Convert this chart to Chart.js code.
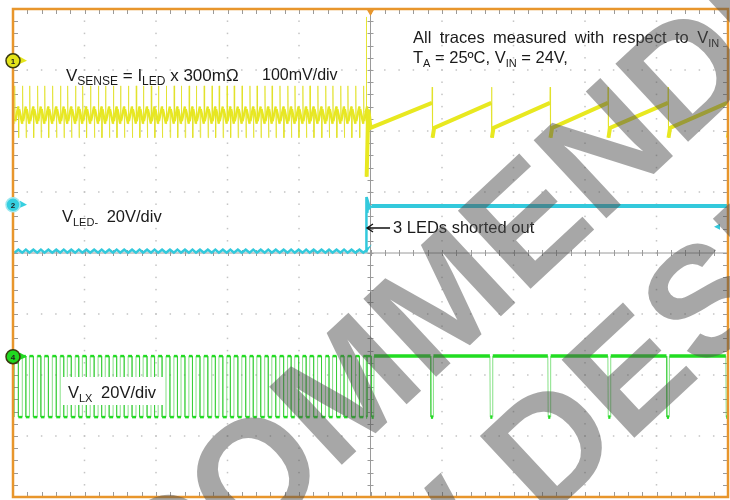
<!DOCTYPE html>
<html>
<head>
<meta charset="utf-8">
<script src="https://cdn.jsdelivr.net/npm/chart.js@4.4.0/dist/chart.umd.min.js"></script>
<style>
html, body { margin: 0; padding: 0; background: #fff; }
#wrap { width: 730px; height: 500px; }
</style>
</head>
<body>
<div id="wrap"><canvas id="chart" width="730" height="500"></canvas></div>
<script>
// Scope screen in divisions: x 0..10, y -4..4 (0 = centre line)

// switching cycles before the short (start of each cycle, div)
var switchCycles = [0.02, 0.13, 0.23, 0.34, 0.44, 0.55, 0.66, 0.76, 0.87, 0.97, 1.08, 1.19, 1.29, 1.40, 1.50, 1.61,
    1.72, 1.82, 1.93, 2.03, 2.14, 2.25, 2.35, 2.46, 2.56, 2.67, 2.78, 2.88, 2.99, 3.09, 3.20, 3.31, 3.41, 3.52, 3.62,
    3.73, 3.84, 3.94, 4.05, 4.15, 4.26, 4.37, 4.47, 4.58, 4.68, 4.79, 4.90];
var shortAt = 4.94;

// after the short the converter only switches now and then
var lxPulses = [5.03, 5.86, 6.69, 7.50, 8.34, 9.16, 9.99];
var senseDrops = [5.86, 6.69, 7.51, 8.32, 9.16, 9.99];

// levels, div  [low, high, spike top, spike bottom]
var senseBefore = [2.12, 2.40, 2.74, 1.89];
var senseAfter = [2.05, 2.46, 2.72, 1.89];
var senseShortSpike = [3.87, 1.25];
var ledBefore = 0.03;
var ledAfter = 0.77;
var ledRipple = 0.025;
var ledRing = [0.92, 0.66, 0.82, 0.74];
var lxLevels = [-1.69, -2.69];

// channel ground markers
var channelNames = ['1', '2', '4'];
var channelLevels = [3.15, 0.79, -1.70];
var channelColors = ['#e4e41a', '#35cfe0', '#20d820'];

var YELLOW = '#e8e820', CYAN = '#33c9dc', GREEN = '#22dd22';
var FONT = '"Liberation Sans", Arial, sans-serif';

function period(i) {
    return i < switchCycles.length - 1 ? switchCycles[i + 1] - switchCycles[i] : 0.106;
}

// V_SENSE trace
var sense = [];
switchCycles.forEach(function(t, i) {
    if (t >= shortAt) return;
    var h = period(i) / 2;
    sense.push({x: t, y: senseBefore[0]}, {x: t + 0.004, y: senseBefore[2]}, {x: t + 0.01, y: senseBefore[0] + 0.04},
        {x: t + h, y: senseBefore[1]}, {x: t + h + 0.004, y: senseBefore[3]}, {x: t + h + 0.01, y: senseBefore[1] - 0.04});
});
sense.push({x: shortAt, y: 2.3}, {x: shortAt + 0.002, y: senseShortSpike[0]}, {x: shortAt + 0.006, y: senseShortSpike[1]},
    {x: shortAt + 0.03, y: 2.35}, {x: shortAt + 0.06, y: senseAfter[0]});
senseDrops.forEach(function(d) {
    sense.push({x: d, y: senseAfter[1]}, {x: d + 0.003, y: senseAfter[2]}, {x: d + 0.008, y: senseAfter[3]},
        {x: d + 0.03, y: senseAfter[0]});
});
sense.push({x: 10, y: senseAfter[0]});

// V_LED- trace
var led = [];
switchCycles.forEach(function(t, i) {
    if (t >= shortAt) return;
    led.push({x: t, y: ledBefore - ledRipple}, {x: t + period(i) / 2, y: ledBefore + ledRipple});
});
led.push({x: shortAt, y: ledBefore}, {x: shortAt + 0.003, y: ledRing[0]}, {x: shortAt + 0.015, y: ledRing[1]},
    {x: shortAt + 0.03, y: ledRing[2]}, {x: shortAt + 0.05, y: ledRing[3]}, {x: shortAt + 0.08, y: ledAfter},
    {x: 10, y: ledAfter});

// V_LX trace
var lx = [];
switchCycles.forEach(function(t, i) {
    if (t >= shortAt) return;
    var h = period(i) / 2;
    lx.push({x: t, y: lxLevels[1]}, {x: t, y: lxLevels[0]}, {x: t + h, y: lxLevels[0]}, {x: t + h, y: lxLevels[1]});
});
lx.push({x: shortAt, y: lxLevels[1]}, {x: shortAt, y: lxLevels[0]});
lxPulses.forEach(function(p) {
    lx.push({x: p - 0.02, y: lxLevels[0]}, {x: p - 0.015, y: lxLevels[1]}, {x: p + 0.015, y: lxLevels[1]},
        {x: p + 0.02, y: lxLevels[0]});
});
lx.push({x: 10, y: lxLevels[0]});

function steep(ctx) {
    return Math.abs(ctx.p1.parsed.x - ctx.p0.parsed.x) < 0.012;
}

// text with subscripts; gap = extra space between words
function rich(ctx, x, y, parts, size, gap) {
    var cx = x;
    parts.forEach(function(p) {
        var s = p[1] ? Math.round(size * 0.68) : size;
        ctx.font = s + 'px ' + FONT;
        var dy = p[1] ? size * 0.22 : 0;
        p[0].split(' ').forEach(function(w, k) {
            if (k > 0) cx += ctx.measureText(' ').width + (gap || 0);
            ctx.fillText(w, cx, y + dy);
            cx += ctx.measureText(w).width;
        });
    });
    return cx;
}

var scopeGrid = {
    id: 'scopeGrid',
    beforeDatasetsDraw: function(chart) {
        var c = chart.ctx, a = chart.chartArea, xs = chart.scales.x, ys = chart.scales.y;
        c.save();
        c.fillStyle = '#c4c4c4';
        for (var i = 1; i < 10; i++) {
            if (i === 5) continue;
            for (var k = -40; k <= 40; k++) {
                c.fillRect(xs.getPixelForValue(i) - 0.75, ys.getPixelForValue(k / 5) - 0.75, 1.5, 1.5);
            }
        }
        for (var j = -3; j <= 3; j++) {
            if (j === 0) continue;
            for (var m = 0; m <= 50; m++) {
                c.fillRect(xs.getPixelForValue(m / 5) - 0.75, ys.getPixelForValue(j) - 0.75, 1.5, 1.5);
            }
        }
        // centre cross with minor ticks
        c.strokeStyle = '#9a9a9a';
        c.lineWidth = 1;
        var cx = xs.getPixelForValue(5), cy = ys.getPixelForValue(0);
        c.beginPath();
        c.moveTo(a.left, cy); c.lineTo(a.right, cy);
        c.moveTo(cx, a.top); c.lineTo(cx, a.bottom);
        for (var n = 0; n <= 50; n++) {
            var px = Math.round(xs.getPixelForValue(n / 5)) + 0.5;
            c.moveTo(px, cy - 3); c.lineTo(px, cy + 3);
            c.moveTo(px, a.top); c.lineTo(px, a.top + 5);
            c.moveTo(px, a.bottom); c.lineTo(px, a.bottom - 5);
        }
        for (var q = -20; q <= 20; q++) {
            var py = Math.round(ys.getPixelForValue(q / 5)) + 0.5;
            c.moveTo(cx - 3, py); c.lineTo(cx + 3, py);
            c.moveTo(a.left, py); c.lineTo(a.left + 5, py);
            c.moveTo(a.right, py); c.lineTo(a.right - 5, py);
        }
        c.stroke();
        c.restore();
    },
    afterDatasetsDraw: function(chart) {
        var c = chart.ctx, a = chart.chartArea, xs = chart.scales.x, ys = chart.scales.y;
        c.save();
        // frame
        c.strokeStyle = '#e8962c';
        c.lineWidth = 2.5;
        c.strokeRect(a.left, a.top, a.right - a.left, a.bottom - a.top);
        // trigger position
        var tx = xs.getPixelForValue(5);
        c.fillStyle = '#e8962c';
        c.beginPath();
        c.moveTo(tx - 4, a.top); c.lineTo(tx + 4, a.top); c.lineTo(tx, a.top + 7); c.fill();
        // trigger level
        var ty = ys.getPixelForValue(0.43);
        c.fillStyle = CYAN;
        c.beginPath();
        c.moveTo(a.right - 14, ty); c.lineTo(a.right - 8, ty - 3); c.lineTo(a.right - 8, ty + 3); c.fill();

        // channel markers
        channelLevels.forEach(function(v, i) {
            var y = ys.getPixelForValue(v);
            c.fillStyle = channelColors[i];
            c.beginPath();
            c.moveTo(a.left + 7, y - 4); c.lineTo(a.left + 14, y); c.lineTo(a.left + 7, y + 3); c.fill();
            c.beginPath();
            c.arc(a.left, y, 7, 0, Math.PI * 2);
            c.fill();
            c.strokeStyle = i === 1 ? '#9ee8f0' : '#3a3a10';
            c.lineWidth = 1.5;
            c.stroke();
            c.fillStyle = '#222';
            c.font = 'bold 8px ' + FONT;
            c.textAlign = 'center';
            c.fillText(channelNames[i], a.left, y + 3);
        });

        // labels
        c.textAlign = 'left';
        c.fillStyle = '#1a1a1a';
        rich(c, 66, 81, [['V'], ['SENSE', 1], [' = I'], ['LED', 1], [' x 300m\u03a9']], 17);
        rich(c, 262, 80, [['100mV/div']], 16);
        rich(c, 413, 43, [['All traces measured with respect to V'], ['IN', 1]], 16.5, 3.8);
        rich(c, 413, 63, [['T'], ['A', 1], [' = 25\u00baC, V'], ['IN', 1], [' = 24V,']], 16.5);
        rich(c, 62, 222, [['V'], ['LED-', 1], [' 20V/div']], 16.5, 4);
        rich(c, 393, 233, [['3 LEDs shorted out']], 16.5);
        c.fillStyle = '#fff';
        c.fillRect(62, 377, 103, 28);
        c.fillStyle = '#1a1a1a';
        rich(c, 68, 398, [['V'], ['LX', 1], [' 20V/div']], 16.5, 4);
        // arrow to the step
        c.strokeStyle = '#111';
        c.lineWidth = 1.3;
        c.beginPath();
        c.moveTo(367, 228); c.lineTo(390, 228);
        c.moveTo(373, 224); c.lineTo(367, 228); c.lineTo(373, 232);
        c.stroke();

        // watermark
        c.fillStyle = 'rgba(80, 80, 80, 0.5)';
        c.font = 'bold 155px ' + FONT;
        var ang = -43 * Math.PI / 180;
        c.save();
        c.translate(246, 554);
        c.rotate(ang);
        c.fillText('NOT RECOMMENDED', -c.measureText('NOT REC').width, 0);
        c.restore();
        c.save();
        c.translate(545, 521);
        c.rotate(ang);
        c.fillText('FOR NEW DESIGNS', -c.measureText('FOR NEW ').width, 0);
        c.restore();
        c.restore();
    }
};

document.addEventListener('DOMContentLoaded', function() {
    var ctx = document.getElementById('chart').getContext('2d');
    new Chart(ctx, {
        type: 'line',
        data: {
            datasets: [{
                label: 'V_LX',
                data: lx,
                borderColor: GREEN,
                borderWidth: 2.5,
                segment: {
                    borderColor: function(s) { return steep(s) ? 'rgba(34, 200, 34, 0.55)' : undefined; },
                    borderWidth: function(s) {
                        if (steep(s)) return 1;
                        return s.p0.parsed.x > shortAt ? 3.5 : undefined;
                    }
                }
            }, {
                label: 'V_LED-',
                data: led,
                borderColor: CYAN,
                borderWidth: 2.5,
                segment: {
                    borderWidth: function(s) { return s.p0.parsed.x > shortAt + 0.05 ? 4 : undefined; }
                }
            }, {
                label: 'V_SENSE',
                data: sense,
                borderColor: YELLOW,
                borderWidth: 2.5,
                segment: {
                    borderColor: function(s) { return steep(s) ? 'rgba(225, 225, 40, 0.75)' : undefined; },
                    borderWidth: function(s) {
                        if (steep(s)) return 1;
                        return s.p0.parsed.x > shortAt ? 4 : undefined;
                    }
                }
            }]
        },
        options: {
            responsive: false,
            animation: false,
            parsing: false,
            normalized: true,
            layout: { padding: { left: 13, right: 2, top: 9, bottom: 3 } },
            elements: { point: { radius: 0 }, line: { tension: 0 } },
            scales: {
                x: { type: 'linear', min: 0, max: 10, display: false },
                y: { type: 'linear', min: -4, max: 4, display: false }
            },
            plugins: { legend: { display: false }, tooltip: { enabled: false } }
        },
        plugins: [scopeGrid]
    });
});
</script>
</body>
</html>
